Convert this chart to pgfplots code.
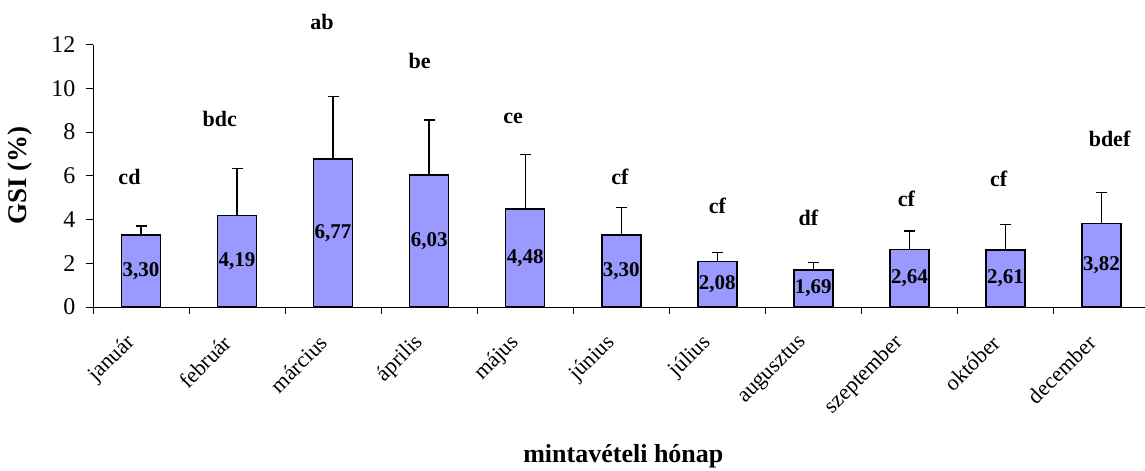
\documentclass[border=0pt]{standalone}
\usepackage{fontspec}
\setmainfont{Liberation Serif}
\usepackage{pgfplots}
\pgfplotsset{compat=1.18}
\usepackage{pgfplotstable}
\definecolor{barblue}{HTML}{9999FF}

\pgfplotstableread{
x v e half lab
0  3.30 0.41 1.650 3,30
1  4.19 2.15 2.095 4,19
2  6.77 2.85 3.385 6,77
3  6.03 2.52 3.015 6,03
4  4.48 2.50 2.240 4,48
5  3.30 1.24 1.650 3,30
6  2.08 0.42 1.040 2,08
7  1.69 0.35 0.845 1,69
8  2.64 0.84 1.320 2,64
9  2.61 1.17 1.305 2,61
10 3.82 1.41 1.910 3,82
}\bars

\pgfplotstableread{
sx sy sig
-0.12 5.96 cd
0.82 8.59 bdc
1.885 13.05 ab
2.90 11.27 be
3.875 8.63 ce
4.985 5.96 cf
6.00 4.62 cf
6.948 4.06 df
7.97 4.93 cf
8.93 5.84 cf
10.084 7.67 bdef
}\sigs

\begin{document}
\begin{tikzpicture}
\begin{axis}[
  name=ax,
  scale only axis,
  width=1056.5bp, height=262.3bp,
  xmin=-0.5, xmax=10.5, ymin=0, ymax=12,
  clip=false,
  axis x line*=bottom, axis y line*=left,
  axis line style={line width=0.8bp, -},
  ytick={0,2,...,12},
  xtick={0,...,10},
  xticklabels={január,február,március,április,május,június,július,augusztus,szeptember,október,december},
  minor xtick={-0.5,0.5,...,10.5},
  minor ytick={0,2,...,12},
  tick align=outside,
  major tick length=0pt, minor tick length=7bp,
  tick style={line width=0.8bp, black},
  /pgf/number format/assume math mode=true,
  yticklabel style={font=\fontsize{24bp}{28bp}\selectfont},
  yticklabel shift=14bp,
  xticklabel style={font=\fontsize{22bp}{26bp}\selectfont, xshift=-7bp, rotate=45, anchor=east},
  xticklabel shift=30bp,
  xlabel={\textbf{mintavételi hónap}},
  xlabel style={font=\fontsize{26bp}{30bp}\selectfont, at={(axis description cs:0.502,-0.5947)}, anchor=base},
  ylabel={\textbf{GSI (\%)}},
  ylabel style={font=\fontsize{27bp}{31bp}\selectfont, at={(axis description cs:-0.0694,0.5)}, anchor=center},
]
\addplot[ybar, bar width=39bp, fill=barblue, draw=black, line width=1.5bp,
  error bars/.cd, y dir=plus, y explicit,
  error bar style={line width=1.4bp, black},
  error mark=-,
  error mark options={rotate=90, line width=1.4bp, mark size=5.5bp, black}]
  table[x=x, y=v, y error=e] {\bars};
\addplot[draw=none, mark=none, nodes near coords, point meta=explicit symbolic,
  nodes near coords style={anchor=center, font=\fontsize{21bp}{25bp}\selectfont\bfseries, text=black}]
  table[x=x, y=half, meta=lab] {\bars};
\addplot[draw=none, mark=none, nodes near coords, point meta=explicit symbolic,
  nodes near coords style={anchor=center, font=\fontsize{22bp}{26bp}\selectfont\bfseries, text=black}]
  table[x=sx, y=sy, meta=sig] {\sigs};
\end{axis}
\pgfresetboundingbox
\path[use as bounding box] ([xshift=-93bp,yshift=-163bp]ax.south west) rectangle ([xshift=-4.5bp,yshift=44.7bp]ax.north east);
\end{tikzpicture}
\end{document}
